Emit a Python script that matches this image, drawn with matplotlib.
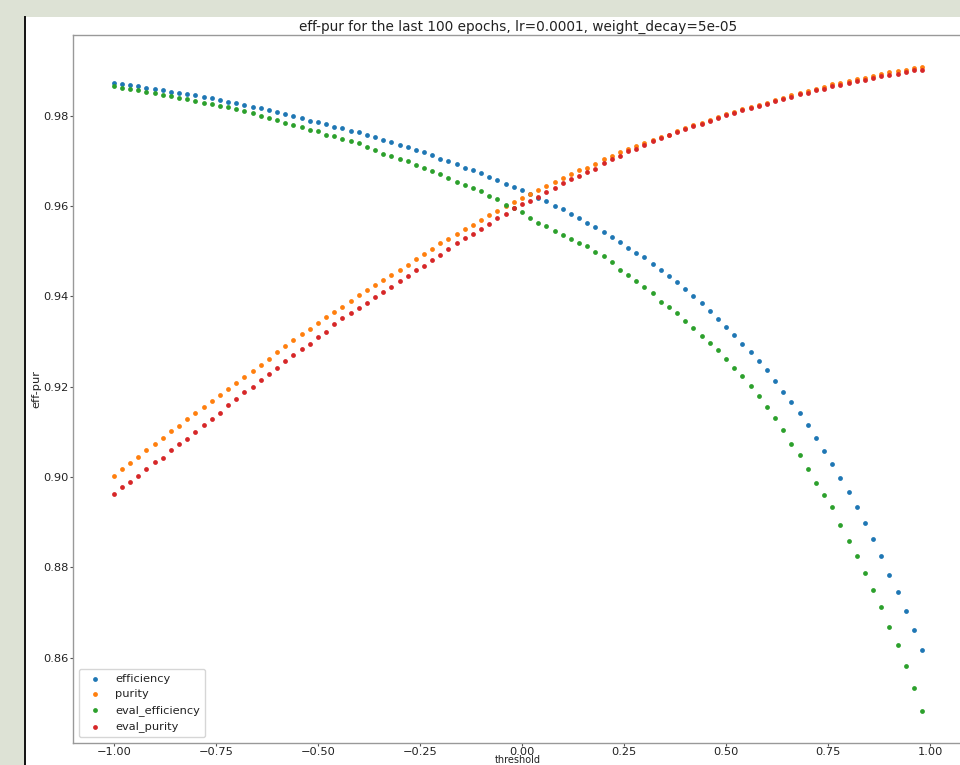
import matplotlib
matplotlib.use('Agg')
import matplotlib.pyplot as plt
import numpy as np
from matplotlib.patches import Rectangle
from matplotlib.lines import Line2D

# thresholds swept from -1.00 to 0.98 in steps of 0.02
threshold = np.round(np.arange(100) * 0.02 - 1.0, 2)

efficiency = [
    0.9873, 0.9870, 0.9868, 0.9865, 0.9862, 0.9859, 0.9856, 0.9853, 0.9851, 0.9848,
    0.9845, 0.9842, 0.9839, 0.9835, 0.9831, 0.9827, 0.9824, 0.9820, 0.9816, 0.9812,
    0.9808, 0.9804, 0.9800, 0.9795, 0.9789, 0.9786, 0.9781, 0.9776, 0.9772, 0.9767,
    0.9763, 0.9757, 0.9752, 0.9746, 0.9741, 0.9735, 0.9730, 0.9724, 0.9719, 0.9713,
    0.9705, 0.9699, 0.9693, 0.9685, 0.9679, 0.9672, 0.9665, 0.9657, 0.9649, 0.9642,
    0.9635, 0.9626, 0.9618, 0.9610, 0.9600, 0.9593, 0.9583, 0.9573, 0.9563, 0.9553,
    0.9542, 0.9531, 0.9520, 0.9508, 0.9497, 0.9486, 0.9472, 0.9459, 0.9446, 0.9431,
    0.9416, 0.9401, 0.9385, 0.9368, 0.9350, 0.9332, 0.9315, 0.9295, 0.9277, 0.9256,
    0.9236, 0.9213, 0.9188, 0.9165, 0.9141, 0.9115, 0.9086, 0.9057, 0.9028, 0.8998,
    0.8966, 0.8933, 0.8898, 0.8862, 0.8824, 0.8784, 0.8745, 0.8703, 0.8661, 0.8617,
]

purity = [
    0.9003, 0.9018, 0.9031, 0.9045, 0.9059, 0.9073, 0.9087, 0.9101, 0.9114, 0.9128,
    0.9141, 0.9155, 0.9168, 0.9181, 0.9194, 0.9208, 0.9222, 0.9235, 0.9249, 0.9262,
    0.9276, 0.9289, 0.9303, 0.9316, 0.9328, 0.9340, 0.9354, 0.9366, 0.9377, 0.9390,
    0.9402, 0.9413, 0.9424, 0.9436, 0.9447, 0.9458, 0.9470, 0.9482, 0.9494, 0.9505,
    0.9517, 0.9528, 0.9537, 0.9548, 0.9559, 0.9569, 0.9579, 0.9590, 0.9600, 0.9609,
    0.9618, 0.9626, 0.9636, 0.9644, 0.9653, 0.9661, 0.9670, 0.9679, 0.9685, 0.9694,
    0.9703, 0.9710, 0.9719, 0.9726, 0.9733, 0.9739, 0.9746, 0.9752, 0.9758, 0.9765,
    0.9773, 0.9779, 0.9784, 0.9791, 0.9798, 0.9804, 0.9809, 0.9815, 0.9819, 0.9824,
    0.9829, 0.9835, 0.9840, 0.9846, 0.9851, 0.9855, 0.9860, 0.9864, 0.9869, 0.9873,
    0.9877, 0.9881, 0.9884, 0.9888, 0.9892, 0.9896, 0.9899, 0.9902, 0.9905, 0.9908,
]

eval_efficiency = [
    0.9866, 0.9862, 0.9859, 0.9856, 0.9853, 0.9850, 0.9846, 0.9843, 0.9839, 0.9836,
    0.9832, 0.9829, 0.9826, 0.9822, 0.9819, 0.9814, 0.9811, 0.9807, 0.9800, 0.9794,
    0.9790, 0.9784, 0.9780, 0.9775, 0.9769, 0.9765, 0.9758, 0.9754, 0.9748, 0.9744,
    0.9739, 0.9730, 0.9724, 0.9716, 0.9711, 0.9705, 0.9699, 0.9691, 0.9684, 0.9677,
    0.9671, 0.9663, 0.9654, 0.9646, 0.9640, 0.9633, 0.9623, 0.9615, 0.9603, 0.9595,
    0.9586, 0.9573, 0.9562, 0.9556, 0.9545, 0.9536, 0.9527, 0.9518, 0.9511, 0.9499,
    0.9489, 0.9475, 0.9459, 0.9447, 0.9433, 0.9421, 0.9407, 0.9388, 0.9377, 0.9362,
    0.9346, 0.9330, 0.9313, 0.9297, 0.9281, 0.9261, 0.9241, 0.9224, 0.9202, 0.9180,
    0.9155, 0.9130, 0.9104, 0.9074, 0.9048, 0.9018, 0.8986, 0.8960, 0.8933, 0.8894,
    0.8859, 0.8826, 0.8787, 0.8750, 0.8713, 0.8669, 0.8627, 0.8582, 0.8533, 0.8483,
]

eval_purity = [
    0.8963, 0.8977, 0.8989, 0.9002, 0.9018, 0.9033, 0.9043, 0.9059, 0.9073, 0.9085,
    0.9099, 0.9115, 0.9129, 0.9142, 0.9159, 0.9172, 0.9188, 0.9200, 0.9215, 0.9228,
    0.9242, 0.9257, 0.9270, 0.9283, 0.9295, 0.9310, 0.9322, 0.9338, 0.9351, 0.9362,
    0.9374, 0.9385, 0.9398, 0.9410, 0.9421, 0.9433, 0.9444, 0.9458, 0.9468, 0.9480,
    0.9492, 0.9505, 0.9517, 0.9530, 0.9539, 0.9549, 0.9561, 0.9573, 0.9583, 0.9595,
    0.9604, 0.9612, 0.9619, 0.9632, 0.9640, 0.9650, 0.9659, 0.9667, 0.9676, 0.9683,
    0.9695, 0.9703, 0.9710, 0.9721, 0.9727, 0.9736, 0.9744, 0.9750, 0.9757, 0.9763,
    0.9771, 0.9777, 0.9782, 0.9789, 0.9795, 0.9801, 0.9806, 0.9812, 0.9817, 0.9821,
    0.9826, 0.9832, 0.9836, 0.9842, 0.9847, 0.9851, 0.9856, 0.9860, 0.9865, 0.9868,
    0.9872, 0.9876, 0.9879, 0.9883, 0.9887, 0.9890, 0.9893, 0.9896, 0.9900, 0.9902,
]

series = [
    ('efficiency', efficiency),
    ('purity', purity),
    ('eval_efficiency', eval_efficiency),
    ('eval_purity', eval_purity),
]

W, H = 960, 765
plt.rcParams['font.size'] = 8.2
plt.rcParams['text.color'] = '#222222'
plt.rcParams['axes.labelcolor'] = '#222222'
plt.rcParams['xtick.color'] = '#555555'
plt.rcParams['ytick.color'] = '#555555'
plt.rcParams['xtick.labelcolor'] = '#222222'
plt.rcParams['ytick.labelcolor'] = '#222222'
plt.rcParams['xtick.major.size'] = 2.0
plt.rcParams['xtick.major.pad'] = 1.0
plt.rcParams['ytick.major.size'] = 2.0
plt.rcParams['ytick.major.pad'] = 1.5

fig = plt.figure(figsize=(W / 100, H / 100), dpi=100, facecolor='#dde2d5')

# white page with a dark left edge
fig.patches.append(Rectangle((25 / W, 0), 1, 1 - 17 / H, transform=fig.transFigure,
                             facecolor='white', edgecolor='none', zorder=-2))
fig.lines.append(Line2D([24.5 / W, 24.5 / W], [0, 1 - 16.5 / H], transform=fig.transFigure,
                        color='#111111', lw=1.4, zorder=-1))

left, right, top, bottom = 73.3, 962.5, 34.7, 742.7
ax_w, ax_h = right - left, bottom - top
ax = fig.add_axes([left / W, (H - bottom) / H, ax_w / W, ax_h / H])

for name, vals in series:
    ax.scatter(threshold, vals, s=12, linewidths=0, label=name)

for sp in ax.spines.values():
    sp.set_color('#999999')
    sp.set_linewidth(1.0)

ax.set_xticks([-1.0, -0.75, -0.5, -0.25, 0.0, 0.25, 0.5, 0.75, 1.0])
ax.set_xlabel('threshold', fontsize=7.0)
ax.set_ylabel('eff-pur')
# keep the axis labels close to the tick labels
ax.yaxis.set_label_coords((41 - left) / ax_w, 0.5)
ax.xaxis.set_label_coords((518 - left) / ax_w, -(755 - bottom) / ax_h)
ax.set_title('eff-pur for the last 100 epochs, lr=0.0001, weight_decay=5e-05', pad=3)
ax.legend(loc='lower left')

fig.savefig('out.png', dpi=100, facecolor=fig.get_facecolor())
